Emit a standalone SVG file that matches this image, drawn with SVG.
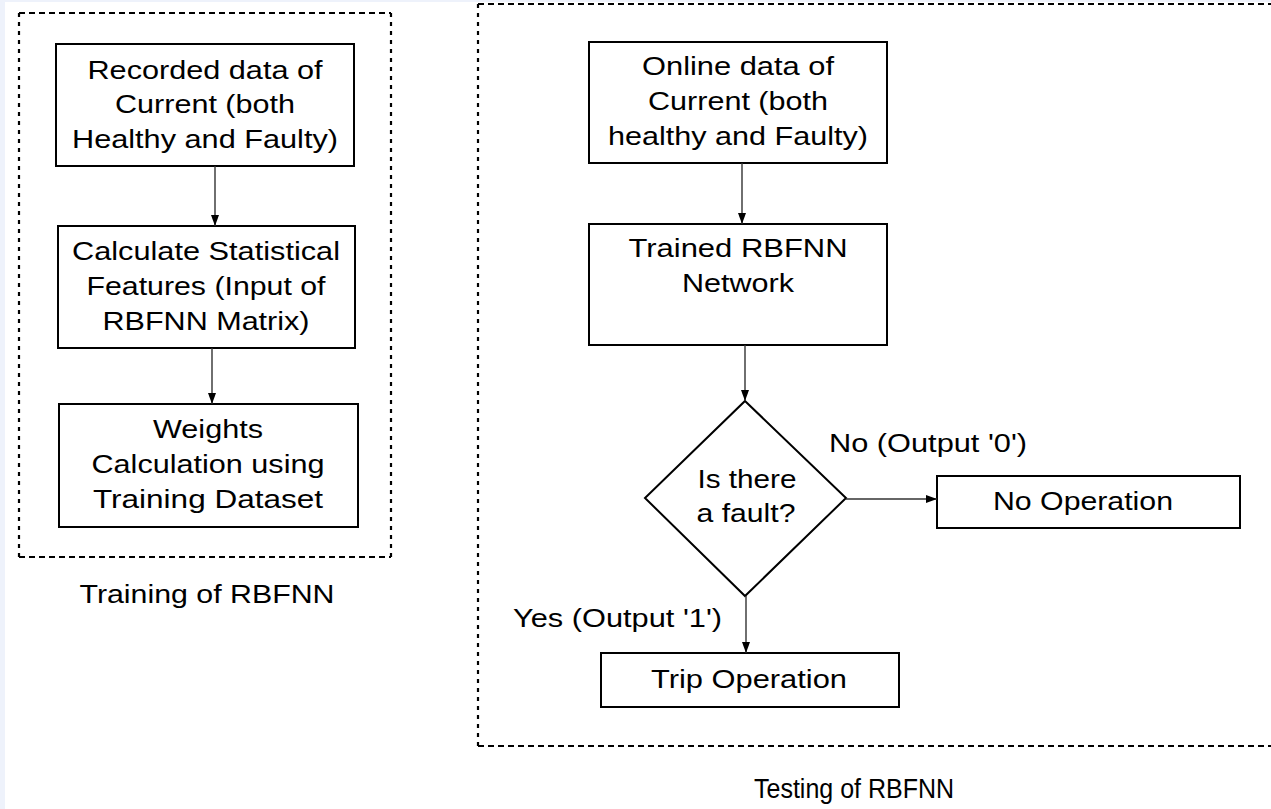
<svg xmlns="http://www.w3.org/2000/svg" width="1271" height="809" viewBox="0 0 1271 809">
<style>
.box{fill:#fff;stroke:#000;stroke-width:2}
.t{font-family:"Liberation Sans",Arial,sans-serif;font-size:25px;fill:#000;text-anchor:middle}
.tl{font-family:"Liberation Sans",Arial,sans-serif;font-size:25px;fill:#000}
.dh{stroke:#000;stroke-width:2.2;stroke-dasharray:6 4;fill:none}
.dv{stroke:#000;stroke-width:2.2;stroke-dasharray:4 5;fill:none}
.c{stroke:#333;stroke-width:1.4;fill:none;marker-end:url(#ah)}
</style>
<defs>
<marker id="ah" markerUnits="userSpaceOnUse" markerWidth="12" markerHeight="10" refX="11" refY="5" orient="auto">
<path d="M0,1 L11,5 L0,9 z" fill="#000"/>
</marker>
</defs>
<rect x="0" y="0" width="1271" height="809" fill="#fff"/>
<rect x="0" y="0" width="5" height="809" fill="#eef2fb"/>
<rect x="0" y="0" width="1271" height="2" fill="#eef2fb"/>

<g id="frame-training">
<line class="dh" x1="19" y1="13" x2="391" y2="13"/>
<line class="dh" x1="19" y1="557" x2="391" y2="557"/>
<line class="dv" x1="19" y1="13" x2="19" y2="557"/>
<line class="dv" x1="391" y1="13" x2="391" y2="557"/>
<text class="t" x="207" y="603" textLength="255" lengthAdjust="spacingAndGlyphs">Training of RBFNN</text>
</g>

<g id="frame-testing">
<line class="dh" x1="478" y1="4" x2="1271" y2="4"/>
<line class="dh" x1="478" y1="746" x2="1271" y2="746"/>
<line class="dv" x1="478" y1="4" x2="478" y2="746"/>
<text class="t" x="854" y="798" style="font-size:27px" textLength="200" lengthAdjust="spacingAndGlyphs">Testing of RBFNN</text>
</g>

<g id="n-recorded">
<rect class="box" x="56" y="44" width="298" height="122"/>
<text class="t" x="205" y="79" textLength="235" lengthAdjust="spacingAndGlyphs">Recorded data of</text>
<text class="t" x="205" y="113" textLength="180" lengthAdjust="spacingAndGlyphs">Current (both</text>
<text class="t" x="205" y="148" textLength="266" lengthAdjust="spacingAndGlyphs">Healthy and Faulty)</text>
</g>

<g id="n-calculate">
<rect class="box" x="58" y="226" width="297" height="122"/>
<text class="t" x="206" y="260" textLength="268" lengthAdjust="spacingAndGlyphs">Calculate Statistical</text>
<text class="t" x="206" y="295" textLength="239" lengthAdjust="spacingAndGlyphs">Features (Input of</text>
<text class="t" x="206" y="330" textLength="207" lengthAdjust="spacingAndGlyphs">RBFNN Matrix)</text>
</g>

<g id="n-weights">
<rect class="box" x="59" y="404" width="299" height="123"/>
<text class="t" x="208" y="438" textLength="110" lengthAdjust="spacingAndGlyphs">Weights</text>
<text class="t" x="208" y="473" textLength="233" lengthAdjust="spacingAndGlyphs">Calculation using</text>
<text class="t" x="208" y="508" textLength="230" lengthAdjust="spacingAndGlyphs">Training Dataset</text>
</g>

<g id="n-online">
<rect class="box" x="589" y="42" width="298" height="121"/>
<text class="t" x="738" y="75" textLength="192" lengthAdjust="spacingAndGlyphs">Online data of</text>
<text class="t" x="738" y="110" textLength="180" lengthAdjust="spacingAndGlyphs">Current (both</text>
<text class="t" x="738" y="145" textLength="260" lengthAdjust="spacingAndGlyphs">healthy and Faulty)</text>
</g>

<g id="n-trained">
<rect class="box" x="589" y="224" width="298" height="121"/>
<text class="t" x="738" y="257" textLength="219" lengthAdjust="spacingAndGlyphs">Trained RBFNN</text>
<text class="t" x="738" y="292" textLength="112" lengthAdjust="spacingAndGlyphs">Network</text>
</g>

<g id="n-decision">
<polygon class="box" points="745,401 846,498 745,596 645,498"/>
<text class="t" x="747" y="488" textLength="99" lengthAdjust="spacingAndGlyphs">Is there</text>
<text class="t" x="746" y="522" textLength="99" lengthAdjust="spacingAndGlyphs">a fault?</text>
</g>

<g id="n-noop">
<rect class="box" x="937" y="476" width="303" height="52"/>
<text class="t" x="1083" y="510" textLength="180" lengthAdjust="spacingAndGlyphs">No Operation</text>
</g>

<g id="n-trip">
<rect class="box" x="601" y="653" width="298" height="54"/>
<text class="t" x="749" y="688" textLength="196" lengthAdjust="spacingAndGlyphs">Trip Operation</text>
</g>

<g id="connectors">
<line class="c" x1="215" y1="166" x2="215" y2="226"/>
<line class="c" x1="212" y1="348" x2="212" y2="404"/>
<line class="c" x1="742" y1="163" x2="742" y2="224"/>
<line class="c" x1="745" y1="345" x2="745" y2="401"/>
<line class="c" x1="846" y1="499" x2="937" y2="499"/>
<line class="c" x1="746" y1="596" x2="746" y2="653"/>
<text class="tl" x="829" y="452" textLength="198" lengthAdjust="spacingAndGlyphs">No (Output '0')</text>
<text class="tl" x="513" y="627" textLength="209" lengthAdjust="spacingAndGlyphs">Yes (Output '1')</text>
</g>
</svg>
